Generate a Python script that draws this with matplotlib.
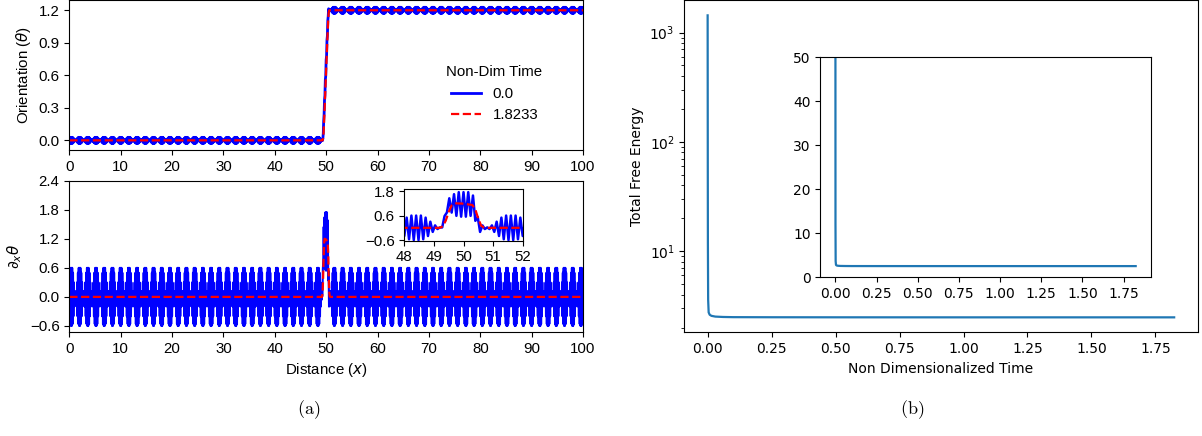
import numpy as np
import matplotlib
matplotlib.use('Agg')
import matplotlib.pyplot as plt

# ---------------- data: panel (a) ----------------
# orientation profile at t = 1.8233 (red)
x_red_knots = [0, 49.2, 49.3, 49.4, 49.5, 49.6, 49.7, 50.0, 50.3, 50.4, 50.5, 50.6, 50.7, 50.8, 100]
theta_red_knots = [0, 0, 0, 0.015, 0.07, 0.17, 0.29, 0.65, 1.0, 1.11, 1.18, 1.198, 1.2, 1.2, 1.2]
# mean orientation front at t = 0 (blue)
x_blue_knots = [0, 49.34, 49.42, 50.38, 50.46, 100]
theta_blue_knots = [0, 0, 0.05, 1.15, 1.2, 1.2]
# one beat of the t = 0 derivative ripple (successive extremes, node -> max -> node)
beat_pattern = [0.02, -0.06, 0.12, -0.20, 0.30, -0.40, 0.50, -0.56, 0.60, -0.60,
                0.60, -0.60, 0.60, -0.56, 0.50, -0.40, 0.30, -0.20, 0.12, -0.06]
ripple_half_period = 0.08      # distance between successive extremes
ripple_first_node = -0.4       # position of a beat node
theta_ripple_amp = 0.028       # ripple amplitude seen on the orientation curve
time_labels = ['0.0', '1.8233']
a_xticks = list(range(0, 101, 10))
a_top_yticks = [0.0, 0.3, 0.6, 0.9, 1.2]
a_bot_yticks = [-0.6, 0.0, 0.6, 1.2, 1.8, 2.4]
inset_a_xticks = [48, 49, 50, 51, 52]
inset_a_yticks = [-0.6, 0.6, 1.8]

# ---------------- data: panel (b) ----------------
energy_time = [0.0, 0.0003, 0.0006, 0.001, 0.002, 0.004, 0.008, 0.015, 0.03,
               0.06, 0.1, 0.25, 0.5, 1.0, 1.5, 1.8233]
energy_value = [1436, 300, 60, 12, 3.6, 2.75, 2.62, 2.56, 2.52,
                2.50, 2.49, 2.485, 2.482, 2.48, 2.48, 2.48]
inset_b_yticks = [0, 10, 20, 30, 40, 50]
b_xticks = [0.0, 0.25, 0.5, 0.75, 1.0, 1.25, 1.5, 1.75]

# ---------------- derived series ----------------
n = int(round((100.4 - ripple_first_node) / ripple_half_period)) + 1
grid = ripple_first_node + ripple_half_period * np.arange(n)
ripple = np.resize(np.array(beat_pattern), n)
theta_front_b = np.interp(grid, x_blue_knots, theta_blue_knots)
dtheta_b = np.gradient(theta_front_b, grid) + ripple
theta_b = theta_front_b + ripple * (theta_ripple_amp / np.max(np.abs(beat_pattern)))
dtheta_r = np.gradient(np.array(theta_red_knots, float), np.array(x_red_knots, float))

# ---------------- figure ----------------
W, H = 1202, 436
fig = plt.figure(figsize=(W / 100, H / 100), dpi=100)
plt.rcParams['font.size'] = 10

def box(l, t, r, b):
    return [l / W, 1 - b / H, (r - l) / W, (b - t) / H]

LS = 'Liberation Sans'
FS = 10.8
red_kw = dict(color='red', lw=1.6, ls='--')

# top-left
ax1 = fig.add_axes(box(69.3, 0.3, 583, 150))
l1, = ax1.plot(grid, theta_b, color='blue', lw=2.0)
l2, = ax1.plot(x_red_knots, theta_red_knots, **red_kw)
ax1.set_xlim(0, 100)
ax1.set_ylim(-0.089, 1.292)
ax1.set_xticks(a_xticks)
ax1.set_yticks(a_top_yticks)
ax1.tick_params(labelfontfamily=LS, labelsize=FS)
ax1.set_ylabel(r'Orientation ($\theta$)', fontfamily=LS, fontsize=FS)
leg = ax1.legend([l1, l2], time_labels, title='Non-Dim Time', frameon=False,
                 loc='upper left', bbox_to_anchor=(0.708, 0.655),
                 prop={'family': LS, 'size': FS})
leg.get_title().set_fontfamily(LS)
leg.get_title().set_fontsize(FS)

# bottom-left
ax2 = fig.add_axes(box(69.3, 180.7, 583, 332))
ax2.plot(grid, dtheta_b, color='blue', lw=1.5)
ax2.plot(x_red_knots, dtheta_r, **red_kw)
ax2.set_xlim(0, 100)
ax2.set_ylim(-0.725, 2.4)
ax2.set_xticks(a_xticks)
ax2.set_yticks(a_bot_yticks)
ax2.tick_params(labelfontfamily=LS, labelsize=FS)
ax2.set_ylabel(r'$\partial_x\theta$', fontsize=FS)
ax2.set_xlabel(r'Distance ($x$)', fontfamily=LS, fontsize=FS)

# inset in bottom-left
ax3 = fig.add_axes(box(404.3, 189, 522.7, 240.7))
ax3.plot(grid, dtheta_b, color='blue', lw=1.8)
ax3.plot(x_red_knots, dtheta_r, **red_kw)
ax3.set_xlim(48, 52)
ax3.set_ylim(-0.63, 1.9)
ax3.set_xticks(inset_a_xticks)
ax3.set_yticks(inset_a_yticks)
ax3.tick_params(labelfontfamily=LS, labelsize=FS)

# right
ax4 = fig.add_axes(box(684.3, 0.3, 1197.5, 332.3))
ax4.plot(energy_time, energy_value, color='#1f77b4', lw=1.6)
ax4.set_yscale('log')
ax4.set_xlim(-0.0912, 1.9145)
ax4.set_ylim(1.81, 1972)
ax4.set_xticks(b_xticks)
ax4.set_ylabel('Total Free Energy')
ax4.set_xlabel('Non Dimensionalized Time')

ax5 = fig.add_axes(box(820.3, 57.3, 1150.7, 277))
ax5.plot(energy_time, energy_value, color='#1f77b4', lw=1.6)
ax5.set_xlim(-0.0912, 1.9145)
ax5.set_ylim(0, 50)
ax5.set_xticks(b_xticks)
ax5.set_yticks(inset_b_yticks)

# captions
fig.text(309 / W, 1 - 410 / H, r'$\mathrm{(a)}$', math_fontfamily='cm',
         fontsize=13, ha='center', va='center')
fig.text(912 / W, 1 - 410 / H, r'$\mathrm{(b)}$', math_fontfamily='cm',
         fontsize=13, ha='center', va='center')

fig.savefig('out.png', dpi=100)
